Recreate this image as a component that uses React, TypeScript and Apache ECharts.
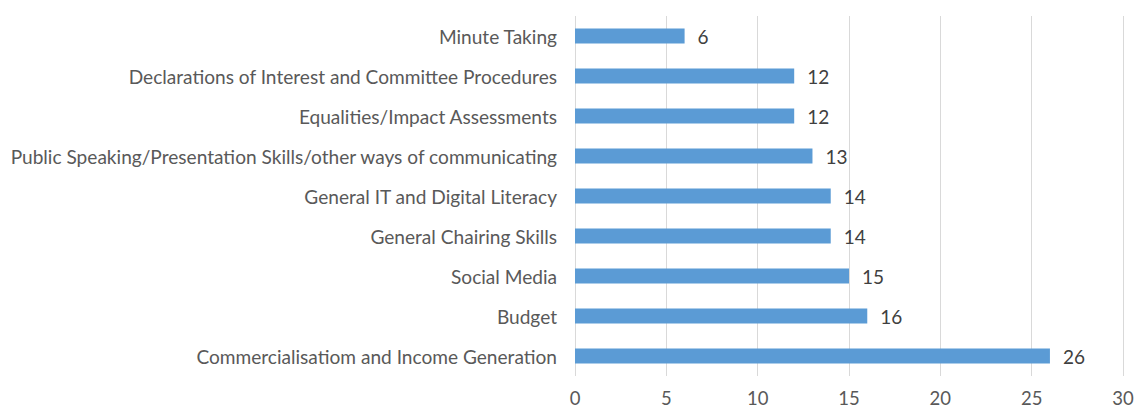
import React, { useEffect, useRef } from "react";
import * as echarts from "echarts";

const categories = [
  "Commercialisatiom and Income Generation",
  "Budget",
  "Social Media",
  "General Chairing Skills",
  "General IT and Digital Literacy",
  "Public Speaking/Presentation Skills/other ways of communicating",
  "Equalities/Impact Assessments",
  "Declarations of Interest and Committee Procedures",
  "Minute Taking",
];
const values = [26, 16, 15, 14, 14, 13, 12, 12, 6];
const xMin = 0;
const xMax = 30;
const xInterval = 5;

const FONT = "Lato, sans-serif";
const TEXT = "#595959";

export default function App() {
  const ref = useRef<HTMLDivElement>(null);
  useEffect(() => {
    if (!ref.current) return;
    const chart = echarts.init(ref.current, undefined, { renderer: "svg" });
    chart.setOption({
      animation: false,
      grid: { left: 575, right: 15, top: 16, bottom: 35, containLabel: false },
      xAxis: {
        type: "value",
        min: xMin,
        max: xMax,
        interval: xInterval,
        axisLine: { show: false },
        axisTick: { show: false },
        axisLabel: {
          color: TEXT,
          fontSize: 18.5,
          lineHeight: 18,
          fontFamily: FONT,
          margin: 13,
          verticalAlign: "top",
        },
        splitLine: { show: true, lineStyle: { color: "#d9d9d9", width: 1 } },
      },
      yAxis: {
        type: "category",
        data: categories,
        axisLine: { show: false },
        axisTick: { show: false },
        axisLabel: { color: TEXT, fontSize: 19.1, fontFamily: FONT, margin: 18 },
        splitLine: { show: false },
      },
      series: [
        {
          type: "bar",
          data: values,
          barWidth: 15,
          itemStyle: { color: "#5B9BD5" },
          label: {
            show: true,
            position: "right",
            distance: 13,
            color: "#404040",
            fontSize: 19,
            fontFamily: FONT,
          },
        },
      ],
    });
    return () => chart.dispose();
  }, []);
  return (
    <div
      ref={ref}
      style={{ position: "absolute", left: 0, top: 0, width: 1138, height: 411 }}
    />
  );
}
